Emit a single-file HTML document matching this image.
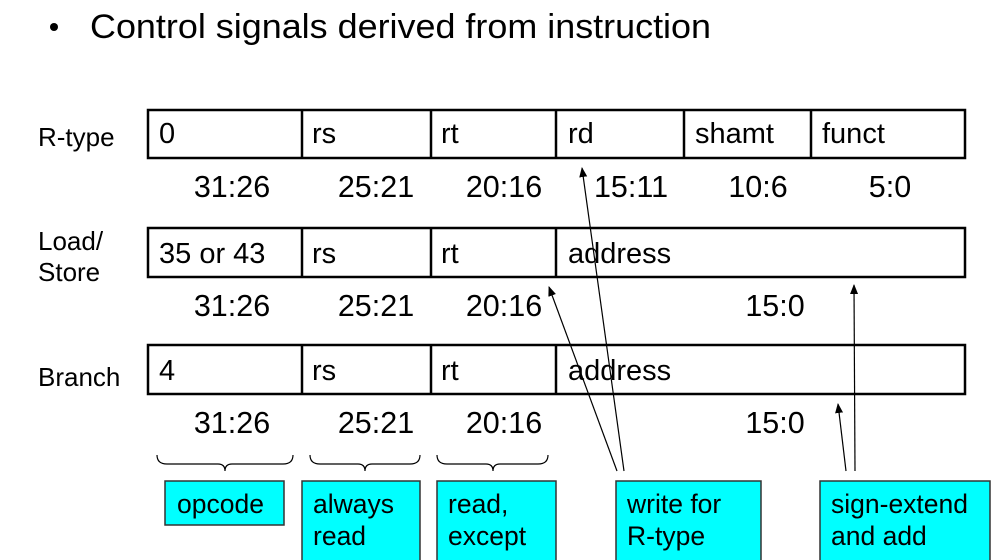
<!DOCTYPE html>
<html><head><meta charset="utf-8"><style>
html,body{margin:0;padding:0;background:#fff;}
svg{display:block;font-family:"Liberation Sans",Arial,sans-serif;}
</style></head><body>
<svg width="1007" height="560" viewBox="0 0 1007 560" xmlns="http://www.w3.org/2000/svg">
<defs>
<marker id="ah" markerWidth="10" markerHeight="10" refX="9" refY="4" orient="auto" markerUnits="userSpaceOnUse">
<path d="M0,0 L10,4 L0,8 z" fill="#000"/>
</marker>
</defs>
<circle cx="54" cy="27" r="4" fill="#000"/>
<text x="90" y="38" font-size="34.5" textLength="621" lengthAdjust="spacingAndGlyphs">Control signals derived from instruction</text>

<g font-size="26">
<text x="38" y="146">R-type</text>
<text x="38" y="250">Load/</text>
<text x="38" y="281">Store</text>
<text x="38" y="386">Branch</text>
</g>

<g fill="none" stroke="#000" stroke-width="2.5">
<rect x="148" y="110" width="817" height="48"/>
<line x1="302" y1="110" x2="302" y2="158"/><line x1="431" y1="110" x2="431" y2="158"/>
<line x1="556" y1="110" x2="556" y2="158"/><line x1="684" y1="110" x2="684" y2="158"/>
<line x1="811" y1="110" x2="811" y2="158"/>
<rect x="148" y="228" width="817" height="49"/>
<line x1="302" y1="228" x2="302" y2="277"/><line x1="431" y1="228" x2="431" y2="277"/>
<line x1="556" y1="228" x2="556" y2="277"/>
<rect x="148" y="345" width="817" height="49"/>
<line x1="302" y1="345" x2="302" y2="394"/><line x1="431" y1="345" x2="431" y2="394"/>
<line x1="556" y1="345" x2="556" y2="394"/>
</g>

<g font-size="29">
<text x="159" y="143">0</text><text x="312" y="143">rs</text><text x="441" y="143">rt</text>
<text x="568" y="143">rd</text><text x="695" y="143">shamt</text><text x="822" y="143">funct</text>
<text x="159" y="263">35 or 43</text><text x="312" y="263">rs</text><text x="441" y="263">rt</text><text x="568" y="263">address</text>
<text x="159" y="380">4</text><text x="312" y="380">rs</text><text x="441" y="380">rt</text><text x="568" y="380">address</text>
</g>

<g font-size="30.5" text-anchor="middle">
<text x="232" y="197">31:26</text><text x="376" y="197">25:21</text><text x="504" y="197">20:16</text>
<text x="631" y="197">15:11</text><text x="758" y="197">10:6</text><text x="890" y="197">5:0</text>
<text x="232" y="316">31:26</text><text x="376" y="316">25:21</text><text x="504" y="316">20:16</text><text x="775" y="316">15:0</text>
<text x="232" y="433">31:26</text><text x="376" y="433">25:21</text><text x="504" y="433">20:16</text><text x="775" y="433">15:0</text>
</g>

<g fill="none" stroke="#000" stroke-width="1.2">
<path d="M157,455 Q157,464 167,464 L218,464 Q225,464 225,471 Q225,464 232,464 L283,464 Q293,464 293,455"/>
<path d="M310,455 Q310,464 320,464 L358,464 Q365,464 365,471 Q365,464 372,464 L410,464 Q420,464 420,455"/>
<path d="M437,455 Q437,464 447,464 L486,464 Q493,464 493,471 Q493,464 500,464 L538,464 Q548,464 548,455"/>
<line x1="624" y1="471" x2="582" y2="168" marker-end="url(#ah)"/>
<line x1="617" y1="471" x2="549" y2="287" marker-end="url(#ah)"/>
<line x1="855" y1="471" x2="854" y2="285" marker-end="url(#ah)"/>
<line x1="846" y1="471" x2="838" y2="404" marker-end="url(#ah)"/>
</g>

<g fill="#00ffff" stroke="#333" stroke-width="1.5">
<rect x="165" y="481" width="119" height="44"/>
<rect x="302" y="481" width="118" height="82"/>
<rect x="437" y="481" width="119" height="82"/>
<rect x="616" y="481" width="145" height="82"/>
<rect x="820" y="481" width="170" height="82"/>
</g>
<g font-size="26.5">
<text x="177" y="513">opcode</text>
<text x="313" y="513">always</text><text x="313" y="545">read</text>
<text x="448" y="513">read,</text><text x="448" y="545">except</text>
<text x="627" y="513">write for</text><text x="627" y="545">R-type</text>
<text x="831" y="513">sign-extend</text><text x="831" y="545">and add</text>
</g>
</svg>
</body></html>
